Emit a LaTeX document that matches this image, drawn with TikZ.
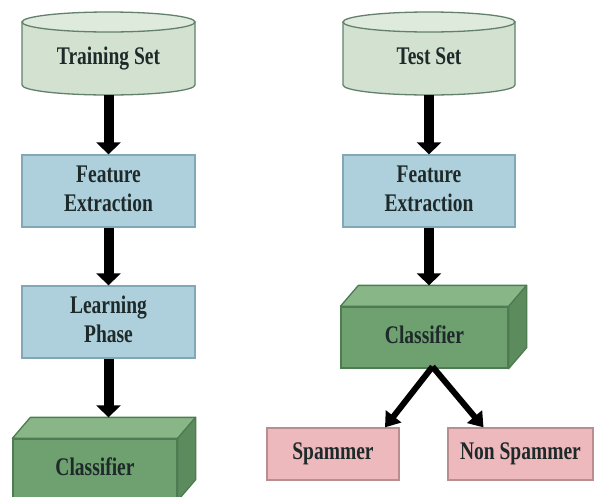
\documentclass[tikz,border=0pt]{standalone}
\usepackage{fontspec}
\setmainfont{Liberation Serif}
\usepackage{graphicx}
\usetikzlibrary{arrows.meta,calc}
\definecolor{cylfill}{HTML}{D3E2D0}
\definecolor{cyltopfill}{HTML}{DEEADB}
\definecolor{cylline}{HTML}{62806A}
\definecolor{bluefill}{HTML}{AED0DC}
\definecolor{blueline}{HTML}{82A8B8}
\definecolor{clsfront}{HTML}{6FA070}
\definecolor{clstopc}{HTML}{88B687}
\definecolor{clsside}{HTML}{5C8B5E}
\definecolor{clsline}{HTML}{4D7B52}
\definecolor{pinkfill}{HTML}{EDB9BD}
\definecolor{pinkline}{HTML}{B98E90}
\definecolor{txtc}{HTML}{1E2A2A}
\newcommand{\vtxt}[1]{\scalebox{1}[1.3]{\begin{tabular}{@{}c@{}}#1\end{tabular}}}
\newcommand{\mycyl}[4]{%
  \pgfmathsetmacro\myrx{(#2-#1)/2}%
  \filldraw[cylshape] (#1,#3) -- (#1,#4) arc[start angle=180,end angle=0,x radius=\myrx,y radius=10] -- (#2,#3) -- cycle;
  \filldraw[cyltopshape] ({#1+\myrx},#3) ellipse[x radius=\myrx,y radius=10];
}
\begin{document}
\begin{tikzpicture}[x=1pt,y=-1pt,
  font=\fontsize{19.5}{22}\selectfont\bfseries,
  every node/.style={text=txtc},
  cylshape/.style={draw=cylline,fill=cylfill,line width=1.3pt},
  cyltopshape/.style={draw=cylline,fill=cyltopfill,line width=1.3pt},
  txtnode/.style={inner sep=0pt},
  bluebox/.style={draw=blueline,fill=bluefill,line width=1.3pt,minimum width=173pt,minimum height=72pt,inner sep=0pt},
  clsbox/.style={draw=clsline,fill=clsfront,line width=1.3pt,minimum height=61pt,inner sep=0pt},
  clstop/.style={draw=clsline,fill=clstopc,line width=1.3pt,line join=round},
  clsside/.style={draw=clsline,fill=clsside,line width=1.3pt,line join=round},
  pinkbox/.style={draw=pinkline,fill=pinkfill,line width=1.3pt,minimum height=52pt,inner sep=0pt},
  bigarrow/.style={line width=10pt,-{Triangle[length=12pt,width=24pt]}},
  diagarrow/.style={line width=6pt,-{Triangle[length=14pt,width=19pt]}}
]
\fill[white] (0,0) rectangle (594,496);
\useasboundingbox (0,0) rectangle (594,496);

% ---------- left column ----------
\mycyl{22}{195}{22}{85}
\node[txtnode,minimum width=173pt,minimum height=73pt] (ts1) at (108.5,58.5) {\vtxt{Training Set}};
\node[bluebox] (fe1) at (108.5,191) {\vtxt{Feature\\Extraction}};
\node[bluebox] (lp) at (108.5,322) {\vtxt{Learning\\Phase}};
\node[clsbox,minimum width=164pt] (c1) at (95,469.5) {\vtxt{Classifier}};
\filldraw[clstop] (c1.north west) -- ++(18,-21) -- ($(c1.north east)+(18,-21)$) -- (c1.north east) -- cycle;
\filldraw[clsside] (c1.north east) -- ++(18,-21) -- ($(c1.south east)+(18,-21)$) -- (c1.south east) -- cycle;
\coordinate (c1back) at ($(c1.north)+(18,-21)$);

\draw[bigarrow] (ts1.south) -- (fe1.north);
\draw[bigarrow] (fe1.south) -- (lp.north);
\draw[bigarrow] (lp.south) -- (lp.south |- c1back);

% ---------- right column ----------
\mycyl{343}{515}{22}{85}
\node[txtnode,minimum width=172pt,minimum height=73pt] (ts2) at (429,58.5) {\vtxt{Test Set}};
\node[bluebox,minimum width=172pt] (fe2) at (429,191) {\vtxt{Feature\\Extraction}};
\node[clsbox,minimum width=167pt] (c2) at (424.5,337.5) {\vtxt{Classifier}};
\filldraw[clstop] (c2.north west) -- ++(18,-21) -- ($(c2.north east)+(18,-21)$) -- (c2.north east) -- cycle;
\filldraw[clsside] (c2.north east) -- ++(18,-21) -- ($(c2.south east)+(18,-21)$) -- (c2.south east) -- cycle;
\coordinate (c2back) at ($(c2.north)+(18,-21)$);

\node[pinkbox,minimum width=132pt] (sp) at (333,454) {\vtxt{Spammer}};
\node[pinkbox,minimum width=145pt] (ns) at (520.5,454) {\vtxt{Non Spammer}};

\draw[bigarrow] (ts2.south) -- (fe2.north);
\draw[bigarrow] (fe2.south) -- (fe2.south |- c2back);

\coordinate (c2out) at ($(c2.south)+(8,-2)$);
\coordinate (spin) at ($(sp.north)+(52,0)$);
\coordinate (nsin) at ($(ns.north)+(-37,0)$);
\draw[diagarrow] (c2out) -- (spin);
\draw[diagarrow] (c2out) -- (nsin);
\end{tikzpicture}
\end{document}
